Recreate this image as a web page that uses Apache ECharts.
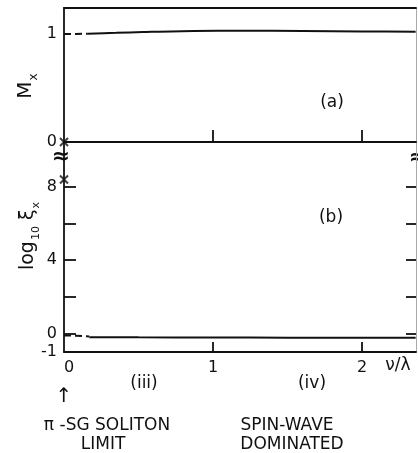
<!DOCTYPE html>
<html><head><meta charset="utf-8">
<script src="https://cdn.jsdelivr.net/npm/echarts@6/dist/echarts.min.js"></script>
<style>html,body{margin:0;padding:0;background:#fff}#c{width:418px;height:453px}</style>
</head><body><div id="c"></div>
<script>
// ---- data ----
var mxDashX = [0, 0.08, 0.16];
var mxDashY = [1.0, 1.0, 1.002];
var mxSolidX = [0.16, 0.35, 0.53, 0.87, 1.2, 1.6, 2.0, 2.36];
var mxSolidY = [1.002, 1.01, 1.018, 1.028, 1.029, 1.027, 1.023, 1.021];
var xiDashX = [0, 0.08, 0.17];
var xiDashY = [-0.1, -0.11, -0.15];
var xiSolidX = [0.17, 0.5, 1.0, 1.5, 2.0, 2.36];
var xiSolidY = [-0.19, -0.2, -0.21, -0.22, -0.22, -0.22];
var markX = [0];
var mxMarkY = [0];
var xiMarkY = [8.4];
var xTickVals = [1, 2];
var xLabelVals = [0, 1, 2];
var mxLabelVals = [0, 1];
var mxTickVals = [1];
var xiLabelVals = [-1, 0, 4, 8];
var xiTickVals = [0, 2, 4, 6, 8];

function zip(a, b) { return a.map(function (v, i) { return [v, b[i]]; }); }

var FONT = 'DejaVu Sans';
var BLACK = '#111';
var lineW = 1.8;
var xMark = 'path://M0,0L10,10M10,0L0,10';

var chart = echarts.init(document.getElementById('c'), null, {renderer: 'canvas'});
chart.setOption({
  animation: false,
  backgroundColor: '#fff',
  grid: [
    {left: 64, top: 8, width: 352, height: 134},
    {left: 64, top: 142, width: 352, height: 210}
  ],
  xAxis: [
    {gridIndex: 0, type: 'value', min: 0, max: 2.3624, position: 'bottom',
     axisLine: {show: true, onZero: false, lineStyle: {color: BLACK, width: lineW}},
     axisTick: {show: true, inside: true, length: 12, customValues: xTickVals, lineStyle: {color: BLACK, width: lineW}},
     axisLabel: {show: false}, splitLine: {show: false}},
    {gridIndex: 0, type: 'value', min: 0, max: 2.3624, position: 'top',
     axisLine: {show: true, onZero: false, lineStyle: {color: BLACK, width: lineW}},
     axisTick: {show: false}, axisLabel: {show: false}, splitLine: {show: false}},
    {gridIndex: 1, type: 'value', min: 0, max: 2.3624, position: 'bottom',
     axisLine: {show: true, onZero: false, lineStyle: {color: BLACK, width: lineW}},
     axisTick: {show: true, inside: true, length: 10, customValues: xTickVals, lineStyle: {color: BLACK, width: lineW}},
     axisLabel: {show: true, customValues: xLabelVals, margin: 8, alignMinLabel: 'left', color: BLACK, fontFamily: FONT, fontSize: 16},
     splitLine: {show: false}}
  ],
  yAxis: [
    {gridIndex: 0, type: 'value', min: 0, max: 1.24, position: 'left',
     axisLine: {show: true, onZero: false, lineStyle: {color: BLACK, width: lineW}},
     axisTick: {show: true, inside: true, length: 5, customValues: mxTickVals, lineStyle: {color: BLACK, width: lineW}},
     axisLabel: {show: true, customValues: mxLabelVals, margin: 7, color: BLACK, fontFamily: FONT, fontSize: 16},
     splitLine: {show: false}},
    {gridIndex: 0, type: 'value', min: 0, max: 1.24, position: 'right',
     axisLine: {show: true, onZero: false, lineStyle: {color: '#aaa', width: 1}},
     axisTick: {show: false}, axisLabel: {show: false}, splitLine: {show: false}},
    {gridIndex: 1, type: 'value', min: -1, max: 10.44, position: 'left',
     axisLine: {show: true, onZero: false, lineStyle: {color: BLACK, width: lineW}},
     axisTick: {show: true, inside: true, length: 12, customValues: xiTickVals, lineStyle: {color: BLACK, width: lineW}},
     axisLabel: {show: true, customValues: xiLabelVals, margin: 7, color: BLACK, fontFamily: FONT, fontSize: 16},
     splitLine: {show: false}},
    {gridIndex: 1, type: 'value', min: -1, max: 10.44, position: 'right',
     axisLine: {show: true, onZero: false, lineStyle: {color: '#aaa', width: 1}},
     axisTick: {show: true, inside: true, length: 10, customValues: xiTickVals, lineStyle: {color: BLACK, width: lineW}},
     axisLabel: {show: false}, splitLine: {show: false}}
  ],
  series: [
    {type: 'line', xAxisIndex: 0, yAxisIndex: 0, data: zip(mxDashX, mxDashY), showSymbol: false,
     lineStyle: {color: BLACK, width: 2, type: [7, 4]}},
    {type: 'line', xAxisIndex: 0, yAxisIndex: 0, data: zip(mxSolidX, mxSolidY), showSymbol: false, smooth: 0.3,
     lineStyle: {color: BLACK, width: 2}},
    {type: 'line', xAxisIndex: 2, yAxisIndex: 2, data: zip(xiDashX, xiDashY), showSymbol: false,
     lineStyle: {color: BLACK, width: 2, type: [7, 4]}},
    {type: 'line', xAxisIndex: 2, yAxisIndex: 2, data: zip(xiSolidX, xiSolidY), showSymbol: false, smooth: 0.3,
     lineStyle: {color: BLACK, width: 2}},
    {type: 'scatter', xAxisIndex: 0, yAxisIndex: 0, data: zip(markX, mxMarkY), symbol: xMark, symbolSize: 8,
     itemStyle: {color: BLACK, borderColor: BLACK, borderWidth: 2}, clip: false},
    {type: 'scatter', xAxisIndex: 2, yAxisIndex: 2, data: zip(markX, xiMarkY), symbol: xMark, symbolSize: 8,
     itemStyle: {color: BLACK, borderColor: BLACK, borderWidth: 2}, clip: false}
  ],
  graphic: [
    {type: 'text', x: 25, y: 86, rotation: Math.PI / 2,
     style: {text: '{m|M}{s|x}', align: 'center', verticalAlign: 'middle', fill: BLACK,
       rich: {m: {fontFamily: FONT, fontSize: 20, fill: BLACK, verticalAlign: 'bottom', lineHeight: 22},
              s: {fontFamily: FONT, fontSize: 12, fill: BLACK, verticalAlign: 'bottom', lineHeight: 22, padding: [0, 0, -4, 1]}}}},
    {type: 'text', x: 27, y: 236, rotation: Math.PI / 2,
     style: {text: '{m|log}{s|10}{m| ξ}{s|x}', align: 'center', verticalAlign: 'middle', fill: BLACK,
       rich: {m: {fontFamily: FONT, fontSize: 19, fill: BLACK, verticalAlign: 'bottom', lineHeight: 22},
              s: {fontFamily: FONT, fontSize: 11, fill: BLACK, verticalAlign: 'bottom', lineHeight: 22, padding: [0, 0, -4, 1]}}}},
    {type: 'text', x: 61, y: 157, style: {text: '≈', align: 'center', verticalAlign: 'middle', fontFamily: FONT, fontSize: 22, fontWeight: 'bold', fill: BLACK}},
    {type: 'text', x: 418, y: 158, style: {text: '≈', align: 'center', verticalAlign: 'middle', fontFamily: FONT, fontSize: 22, fontWeight: 'bold', fill: BLACK}},
    {type: 'text', x: 332, y: 103, style: {text: '(a)', align: 'center', verticalAlign: 'middle', fontFamily: FONT, fontSize: 17, fill: BLACK}},
    {type: 'text', x: 331, y: 218, style: {text: '(b)', align: 'center', verticalAlign: 'middle', fontFamily: FONT, fontSize: 17, fill: BLACK}},
    {type: 'text', x: 398, y: 366, style: {text: 'ν/λ', align: 'center', verticalAlign: 'middle', fontFamily: FONT, fontSize: 17, fill: BLACK}},
    {type: 'text', x: 144, y: 384, style: {text: '(iii)', align: 'center', verticalAlign: 'middle', fontFamily: FONT, fontSize: 17, fill: BLACK}},
    {type: 'text', x: 312, y: 384, style: {text: '(iv)', align: 'center', verticalAlign: 'middle', fontFamily: FONT, fontSize: 17, fill: BLACK}},
    {type: 'text', x: 64, y: 397, style: {text: '↑', align: 'center', verticalAlign: 'middle', fontFamily: FONT, fontSize: 20, fill: BLACK}},
    {type: 'text', x: 107, y: 426, style: {text: 'π -SG SOLITON', align: 'center', verticalAlign: 'middle', fontFamily: FONT, fontSize: 17, fill: BLACK}},
    {type: 'text', x: 103, y: 445, style: {text: 'LIMIT', align: 'center', verticalAlign: 'middle', fontFamily: FONT, fontSize: 17, fill: BLACK}},
    {type: 'text', x: 287, y: 426, style: {text: 'SPIN-WAVE', align: 'center', verticalAlign: 'middle', fontFamily: FONT, fontSize: 17, fill: BLACK}},
    {type: 'text', x: 292, y: 445, style: {text: 'DOMINATED', align: 'center', verticalAlign: 'middle', fontFamily: FONT, fontSize: 17, fill: BLACK}}
  ]
});
</script></body></html>
